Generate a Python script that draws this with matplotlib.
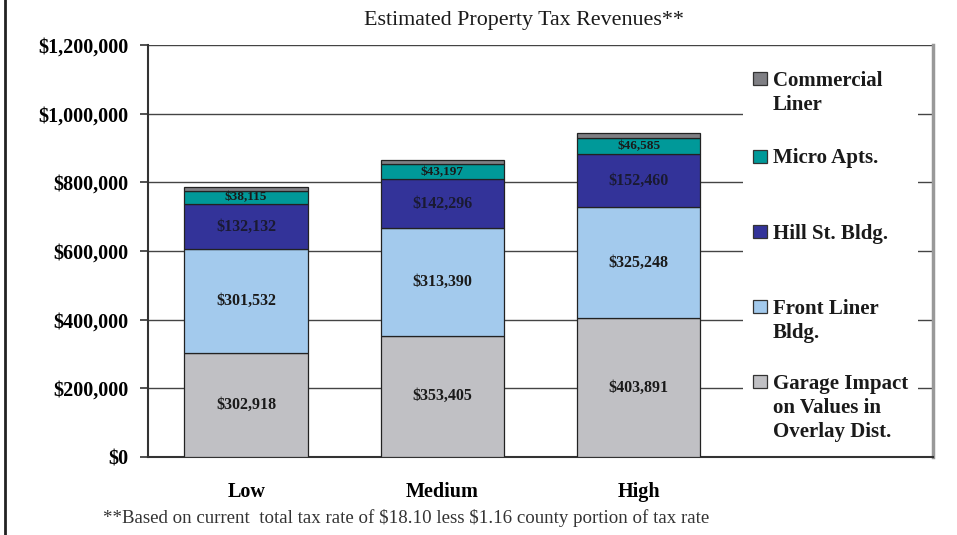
import matplotlib.pyplot as plt
from matplotlib.patches import Rectangle
from matplotlib.lines import Line2D
from matplotlib.ticker import FuncFormatter

# data
categories = ['Low', 'Medium', 'High']
series_names = ['Garage Impact\non Values in\nOverlay Dist.', 'Front Liner\nBldg.',
                'Hill St. Bldg.', 'Micro Apts.', 'Commercial\nLiner']
garage = [302918, 353405, 403891]
front_liner = [301532, 313390, 325248]
hill_st = [132132, 142296, 152460]
micro = [38115, 43197, 46585]
commercial = [10500, 13500, 14500]

colors = ['#C0C0C4', '#A3CAED', '#333399', '#009999', '#7F7F84']
label_colors = ['#1a1a1a', '#1a1a1a', '#1a1a33', '#1a1a1a', None]
label_sizes = [11.5, 11.5, 11.5, 9.5, None]

plt.rcParams['font.family'] = ['Liberation Serif', 'DejaVu Serif']
plt.rcParams['text.parse_math'] = False

fig = plt.figure(figsize=(9.57, 5.35), dpi=100)
ax = fig.add_axes([148 / 957, 1 - 457 / 535, 785 / 957, 412 / 535])

x = list(range(len(categories)))
bottom = [0, 0, 0]
all_series = [garage, front_liner, hill_st, micro, commercial]
for vals, col, lc, fs in zip(all_series, colors, label_colors, label_sizes):
    bars = ax.bar(x, vals, width=0.63, bottom=bottom, color=col,
                  edgecolor='#222222', linewidth=0.9, zorder=3)
    if lc is not None:
        ax.bar_label(bars, labels=['${:,}'.format(v) for v in vals],
                     label_type='center', color=lc, fontsize=fs,
                     fontweight='bold', zorder=4)
    bottom = [b + v for b, v in zip(bottom, vals)]

ax.set_xlim(-0.5, 3.5)
ax.set_ylim(0, 1200000)
ax.set_yticks(range(0, 1200001, 200000))
ax.yaxis.set_major_formatter(FuncFormatter(lambda v, p: '${:,.0f}'.format(v)))
ax.yaxis.grid(True, color='#444444', linewidth=1.0, zorder=0)
ax.set_axisbelow(True)

ax.set_xticks(x)
ax.set_xticklabels(categories, fontsize=14.5, fontweight='bold')
ax.tick_params(axis='x', length=0, pad=18)
ax.tick_params(axis='y', length=6, width=1.2, color='#333333', pad=8, labelsize=14.5)
for lab in ax.get_yticklabels():
    lab.set_fontweight('bold')

ax.spines['top'].set_visible(False)
ax.spines['left'].set_color('#333333')
ax.spines['left'].set_linewidth(1.5)
ax.spines['bottom'].set_color('#333333')
ax.spines['bottom'].set_linewidth(1.5)
ax.spines['right'].set_color('#999999')
ax.spines['right'].set_linewidth(2.5)

# legend drawn by hand so the swatch sits on the first line of each entry
def ax_x(px):
    return (px - 148) / 785

def ax_y(py):
    return (457 - py) / 412

ax.add_patch(Rectangle((ax_x(743), ax_y(445)), ax_x(918) - ax_x(743),
                       ax_y(62) - ax_y(445), transform=ax.transAxes,
                       facecolor='white', edgecolor='none', zorder=1))
cap_tops = [373, 298, 223, 148, 70]
for name, col, top in zip(series_names, colors, cap_tops):
    ax.add_patch(Rectangle((ax_x(753), ax_y(top + 15)), ax_x(767) - ax_x(753),
                           ax_y(top + 2) - ax_y(top + 15), transform=ax.transAxes,
                           facecolor=col, edgecolor='#333333', linewidth=0.9, zorder=5))
    ax.text(ax_x(773), ax_y(top + 0.5), name, transform=ax.transAxes, fontsize=15,
            fontweight='bold', va='top', ha='left', linespacing=1.28,
            color='#1a1a1a', zorder=5)

fig.text(524 / 957, 1 - 21 / 535, 'Estimated Property Tax Revenues**',
         ha='center', va='center', fontsize=15.8, color='#1a1a1a')
fig.text(103 / 957, 1 - 518 / 535,
         '**Based on current  total tax rate of $18.10 less $1.16 county portion of tax rate',
         ha='left', va='center', fontsize=13.6, color='#333333')

fig.add_artist(Line2D([5 / 957, 5 / 957], [0, 1], transform=fig.transFigure,
                      color='#222222', linewidth=2))

fig.savefig('out.png', dpi=100)
